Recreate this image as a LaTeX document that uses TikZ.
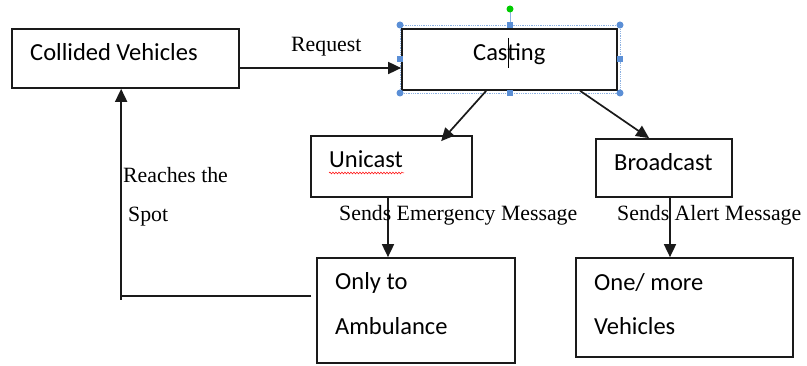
\documentclass[tikz,border=0pt]{standalone}
\usepackage{fontspec}
\usetikzlibrary{arrows.meta,calc,decorations.pathmorphing}
\newfontfamily\calibfont{Carlito}
\newfontfamily\tmsfont{Liberation Serif}
\definecolor{selblue}{HTML}{5B8FD6}
\definecolor{linegray}{HTML}{1A1A1A}
\begin{document}
\begin{tikzpicture}[x=1pt,y=-1pt,
  box/.style={draw=linegray, line width=1.7pt, inner sep=0pt, fill=white},
  lbl/.style={font=\calibfont\fontsize{24.5}{29}\selectfont, inner sep=0pt, anchor=base west},
  elbl/.style={font=\tmsfont\fontsize{21.8}{26}\selectfont, inner sep=0pt, anchor=base west},
  arr/.style={draw=linegray, line width=1.7pt, -{Triangle[length=13pt,width=12pt]}},
  handle/.style={fill=selblue, draw=none},
]
\useasboundingbox[fill=white] (0,0) rectangle (807,366);

% selection frame around Casting
\draw[selblue!70, densely dotted, line width=0.8pt] (400,25) rectangle (620,93);
\draw[selblue!70, line width=0.8pt] (510,12) -- (510,25);

% boxes
\node[box, minimum width=227pt, minimum height=59pt] (cv) at (125.5,58.5) {};
\node[box, minimum width=215pt, minimum height=61pt] (cast) at (509.5,59.5) {};
\node[box, minimum width=161pt, minimum height=61pt] (uni) at (391.5,166.5) {};
\node[box, minimum width=136pt, minimum height=58pt] (bc) at (664,168) {};
\node[box, minimum width=198pt, minimum height=105pt] (amb) at (416,310.5) {};
\node[box, minimum width=217pt, minimum height=99pt] (one) at (684.5,307.5) {};

% handles
\foreach \p in {(400,25),(620,25),(400,93),(620,93)} \fill[handle] \p circle (3.5pt);
\foreach \p in {(510,25),(510,93),(400,59),(620,59)} \fill[handle] \p ++(-3,-3) rectangle ++(6,6);
\fill[green!80!black] (510,9) circle (3.5pt);

% box texts
\node[lbl] (tcv) at (30,61) {Collided Vehicles};
\node[lbl] (tcast) at (473,61) {Casting};
\draw[black, line width=1pt] (508,38) -- (508,68);
\node[lbl] (tuni) at (329,168) {Unicast};
\draw[red, line width=0.5pt, decorate, decoration={snake, amplitude=0.9pt, segment length=3pt}] (329,173) -- (404,173);
\node[lbl] (tbc) at (614,171) {Broadcast};
\node[lbl] (tamb1) at (335,290) {Only to};
\node[lbl] (tamb2) at (335,335) {Ambulance};
\node[lbl] (tone1) at (594,291) {One/ more};
\node[lbl] (tone2) at (594,335) {Vehicles};

% connectors
\draw[arr] (cv.east |- 0,68) coordinate (rq1) -- (rq1 -| cast.west);
\coordinate (c1) at ($(cast.south west)+(85,0)$);
\coordinate (u1) at ($(uni.north west)+(131,6)$);
\draw[arr] (c1) -- (u1);
\coordinate (c2) at ($(cast.south west)+(179,0)$);
\coordinate (b1) at ($(bc.north west)+(54,0)$);
\draw[arr] (c2) -- (b1);
\coordinate (u2) at ($(uni.south)+(-3.5,0)$);
\draw[arr] (u2) -- (u2 |- amb.north);
\coordinate (b2) at ($(bc.south)+(6,0)$);
\draw[arr] (b2) -- (b2 |- one.north);
\coordinate (a1) at ($(amb.west)+(-5,-14.5)$);
\coordinate (cvb) at ($(cv.south west)+(110,0)$);
\draw[arr] (a1) -| (cvb);
\draw[draw=linegray, line width=1.7pt] (a1 -| cvb) -- ++(0,4);

% edge labels
\node[elbl] (lreq) at (291,52) {Request};
\node[elbl] (lreach) at (123,183) {Reaches the};
\node[elbl] (lspot) at (128,222) {Spot};
\node[elbl] (lsem) at (339,221) {Sends Emergency Message};
\node[elbl] (lsam) at (617,221) {Sends Alert Message};
\end{tikzpicture}
\end{document}
